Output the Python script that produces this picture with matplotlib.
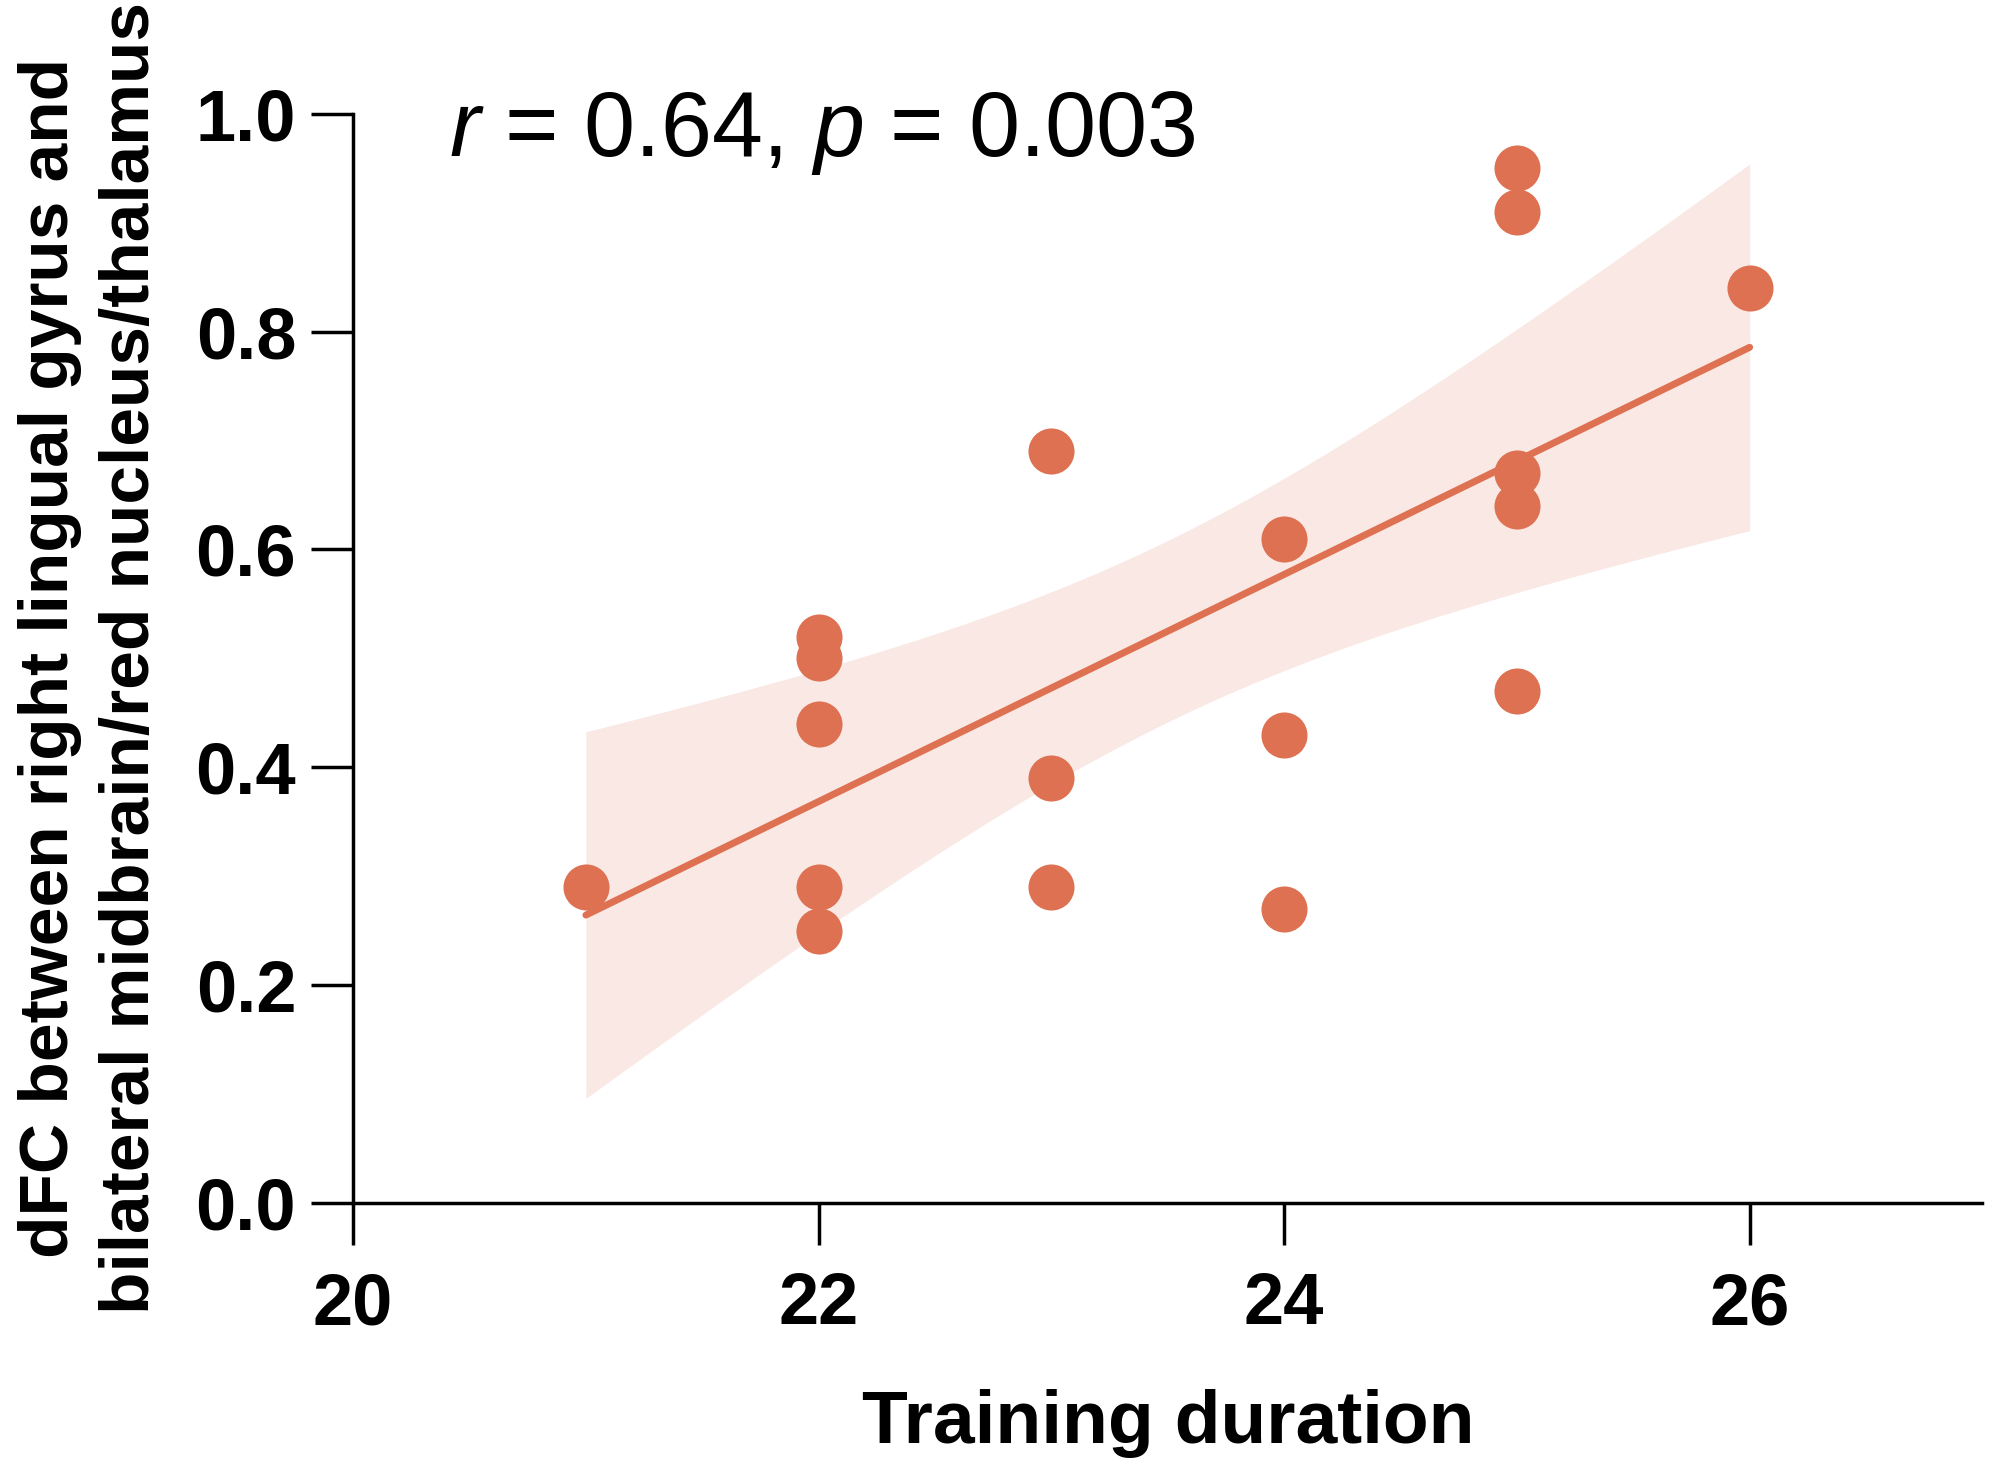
import numpy as np
import matplotlib as mpl
from matplotlib import pyplot as plt

# Data ------------------------------------------------------------------------
duration = np.array([21,
                     22, 22, 22, 22, 22,
                     23, 23, 23,
                     24, 24, 24,
                     25, 25, 25, 25, 25,
                     26])
dfc = np.array([0.29,
                0.52, 0.50, 0.44, 0.29, 0.25,
                0.69, 0.39, 0.29,
                0.61, 0.43, 0.27,
                0.95, 0.91, 0.67, 0.64, 0.47,
                0.84])

xticks = [20, 22, 24, 26]
yticks = [0.0, 0.2, 0.4, 0.6, 0.8, 1.0]
stats_text = r'$\mathit{r}$ = 0.64, $\mathit{p}$ = 0.003'

# Style -----------------------------------------------------------------------
plt.rcParams['font.family'] = 'Liberation Sans'
plt.rcParams['mathtext.fontset'] = 'custom'
plt.rcParams['mathtext.rm'] = 'Liberation Sans'
plt.rcParams['mathtext.it'] = 'Liberation Sans:italic'

c_dot = '#DE7152'
c_band = '#F9E8E3'

# Linear fit and 95% confidence band ------------------------------------------
n = len(duration)
slope, icpt = np.polyfit(duration, dfc, 1)
resid = dfc - (slope*duration + icpt)
s = np.sqrt(np.sum(resid**2)/(n - 2))
sxx = np.sum((duration - duration.mean())**2)
tval = 2.12  # t(0.975, 16)
xf = np.linspace(duration.min(), duration.max(), 200)
yf = slope*xf + icpt
half = tval*s*np.sqrt(1/n + (xf - duration.mean())**2/sxx)

# Figure ----------------------------------------------------------------------
fig = plt.figure(figsize=(19.95, 14.72), dpi=100)
ax = fig.add_axes([0.177, 0.1827, 0.8167, 0.74])

ax.fill_between(xf, yf - half, yf + half, color=c_band, lw=0, zorder=1)
ax.plot(xf, yf, color=c_dot, lw=5, solid_capstyle='round', zorder=2)
ax.scatter(duration, dfc, s=1100, color=c_dot, lw=0, zorder=3)

ax.set_xlim(20, 27)
ax.set_ylim(0, 1.0)
ax.set_xticks(xticks)
ax.set_yticks(yticks)
ax.set_yticklabels([f'{v:.1f}' for v in yticks])

for sp in ['top', 'right']:
    ax.spines[sp].set_visible(False)
for sp in ['left', 'bottom']:
    ax.spines[sp].set_linewidth(2.5)

ax.tick_params(axis='both', length=30, width=2.5, labelsize=52)
ax.tick_params(axis='y', pad=11)
ax.tick_params(axis='x', pad=19)
for lab in ax.get_xticklabels() + ax.get_yticklabels():
    lab.set_fontweight('bold')

ax.set_xlabel('Training duration', fontsize=54, fontweight='bold')
ax.xaxis.set_label_coords(0.5, -0.171)
ax.set_ylabel('dFC between right lingual gyrus and\n'
              'bilateral midbrain/red nucleus/thalamus',
              fontsize=50, fontweight='bold', linespacing=1.35)
ax.yaxis.set_label_coords(-0.1165, 0.5)

ax.text(20.41, 0.961, stats_text, fontsize=66, va='baseline', ha='left')

fig.savefig('out.png', dpi=100, facecolor='white')
